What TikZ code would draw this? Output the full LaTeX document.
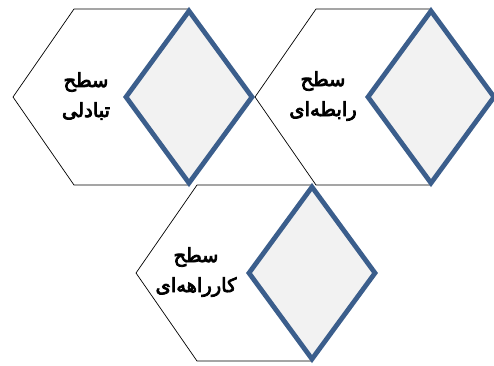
\documentclass[tikz,border=0pt]{standalone}
\usepackage{fontspec}
\newfontfamily\arabicfont[Script=Arabic,FakeBold=4]{DejaVu Sans}
\TeXXeTstate=1
\definecolor{SteelBlue}{HTML}{3B5E8C}
\definecolor{FaceGray}{HTML}{F2F2F2}
\tikzset{
  hexside/.style={draw=black,line width=0.7pt,fill=white,line join=miter},
  diamondface/.style={draw=SteelBlue,line width=4.8pt,fill=FaceGray,line join=miter},
  leveltext/.style={font=\arabicfont\fontsize{19.5}{30}\selectfont,align=center,inner sep=0pt}
}

\begin{document}
\begin{tikzpicture}[x=1pt,y=-1pt]
  \useasboundingbox (0,0) rectangle (494,365);
  % hexagons first, diamonds on top
  \foreach \cx/\cy in {189/97, 431/97, 312/273}{
    \draw[hexside] (\cx-176,\cy) -- (\cx-115,\cy-88) -- (\cx,\cy-88)
      -- (\cx+63,\cy) -- (\cx,\cy+88) -- (\cx-115,\cy+88) -- cycle;
  }
  \foreach \cx/\cy in {189/97, 431/97, 312/273}{
    \draw[diamondface] (\cx,\cy-86) -- (\cx+63,\cy) -- (\cx,\cy+86)
      -- (\cx-63,\cy) -- cycle;
  }
  % labels
  \node[leveltext] (exchange) at (86,96) {\beginR سطح\endR\\\beginR تبادلی\endR};
  \node[leveltext] (relation) at (323,96) {\beginR سطح\endR\\\beginR رابطه‌ای\endR};
  \node[leveltext] (career) at (196,272) {\beginR سطح\endR\\\beginR کارراهه‌ای\endR};
\end{tikzpicture}
\end{document}
